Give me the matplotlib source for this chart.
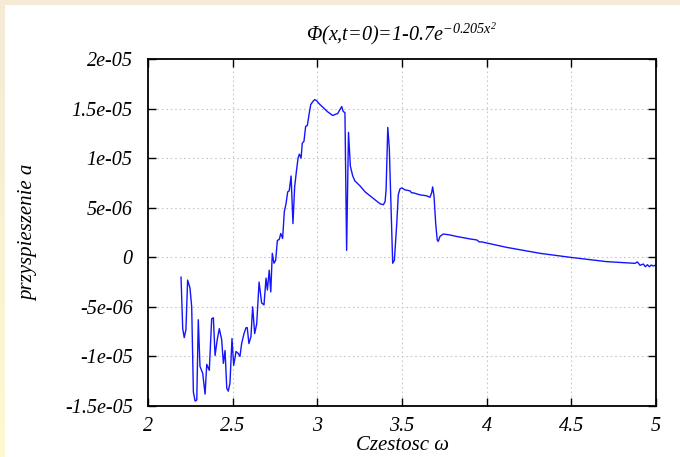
import numpy as np
import matplotlib.pyplot as plt
from matplotlib.ticker import FixedLocator, FixedFormatter

# czestosc omega i przyspieszenie a (w jednostkach 1e-6)
omega = [2.195, 2.205, 2.214, 2.224, 2.234, 2.248, 2.258, 2.268, 2.278, 2.288,
         2.297, 2.307, 2.323, 2.337, 2.347, 2.362, 2.376, 2.386, 2.396, 2.409,
         2.421, 2.435, 2.445, 2.455, 2.465, 2.474, 2.484, 2.496, 2.506, 2.520,
         2.533, 2.543, 2.553, 2.567, 2.579, 2.586, 2.596, 2.608, 2.618, 2.630,
         2.642, 2.656, 2.671, 2.685, 2.697, 2.705, 2.716, 2.725, 2.734, 2.744,
         2.754, 2.764, 2.775, 2.784, 2.795, 2.805, 2.815, 2.825, 2.834, 2.845,
         2.856, 2.866, 2.876, 2.886, 2.894, 2.904, 2.911, 2.921, 2.931, 2.941,
         2.951, 2.961, 2.973, 2.984, 2.996, 3.010, 3.022, 3.035, 3.047, 3.059,
         3.075, 3.091, 3.104, 3.120, 3.134, 3.144, 3.153, 3.163, 3.173, 3.184,
         3.195, 3.209, 3.222, 3.252, 3.282, 3.311, 3.341, 3.370, 3.390, 3.400,
         3.406, 3.416, 3.425, 3.437, 3.445, 3.455, 3.469, 3.478, 3.488, 3.498,
         3.518, 3.547, 3.557, 3.567, 3.606, 3.646, 3.665, 3.675, 3.681, 3.689,
         3.699, 3.708, 3.714, 3.724, 3.744, 3.783, 3.823, 3.902, 3.941, 3.957,
         3.971, 4.118, 4.315, 4.492, 4.709, 4.876, 4.890, 4.906, 4.925, 4.937,
         4.949, 4.961, 4.972, 4.984, 4.994]
accel = [-2.0, -7.2, -8.1, -7.3, -2.3, -3.1, -5.0, -13.6, -14.5, -14.4,
         -6.3, -11.0, -11.7, -13.8, -10.8, -11.4, -6.2, -6.1, -9.9, -8.3,
         -7.2, -8.3, -10.7, -9.4, -13.2, -13.5, -12.7, -8.2, -10.9, -9.5,
         -9.7, -10.0, -8.7, -7.7, -7.1, -7.1, -8.7, -8.0, -5.0, -7.7,
         -6.7, -2.5, -4.6, -4.8, -2.1, -3.3, -1.3, -3.5, 0.4, -0.6,
         -0.3, 1.7, 1.8, 2.4, 1.9, 4.6, 5.4, 6.6, 6.7, 8.2,
         3.4, 7.1, 8.6, 10.0, 10.4, 10.0, 11.5, 11.7, 13.2, 13.3,
         14.4, 15.4, 15.7, 15.9, 15.8, 15.5, 15.3, 15.1, 14.9, 14.7,
         14.5, 14.3, 14.4, 14.5, 14.9, 15.2, 14.7, 14.6, 0.7, 12.6,
         9.2, 8.2, 7.7, 7.2, 6.6, 6.2, 5.8, 5.4, 5.3, 5.6,
         6.8, 13.1, 11.0, 4.1, -0.6, -0.3, 3.4, 6.3, 6.9, 7.0,
         6.8, 6.7, 6.5, 6.5, 6.3, 6.2, 6.05, 6.5, 7.1, 6.2,
         3.4, 1.75, 1.6, 2.1, 2.35, 2.25, 2.1, 1.85, 1.75, 1.55,
         1.55, 1.0, 0.4, 0.0, -0.44, -0.61, -0.47, -0.81, -0.68, -0.95,
         -0.75, -0.95, -0.78, -0.88, -0.81]

xticks = [2, 2.5, 3, 3.5, 4, 4.5, 5]
xtick_labels = ["2", "2.5", "3", "3.5", "4", "4.5", "5"]
yticks = [-1.5e-05, -1e-05, -5e-06, 0, 5e-06, 1e-05, 1.5e-05, 2e-05]
ytick_labels = ["-1.5e-05", "-1e-05", "-5e-06", "0", "5e-06", "1e-05", "1.5e-05", "2e-05"]

plt.rcParams['font.family'] = ['Liberation Serif', 'DejaVu Serif']
plt.rcParams['font.style'] = 'italic'
plt.rcParams['mathtext.fontset'] = 'custom'
plt.rcParams['mathtext.rm'] = 'Liberation Serif:italic'
plt.rcParams['mathtext.it'] = 'Liberation Serif:italic'

W, H = 680, 457
fig = plt.figure(figsize=(W / 100, H / 100), dpi=100, facecolor='white')

# kremowe obramowanie: pasek u gory i gradient po lewej
bg = fig.add_axes([0, 0, 1, 1], zorder=-10)
bg.set_xlim(0, W)
bg.set_ylim(H, 0)
bg.axis('off')
bg.add_patch(plt.Rectangle((0, 0), W, 5, color='#f4ead6', lw=0))
grad = np.linspace(0, 1, 256).reshape(-1, 1)
c_top = np.array([0xf4, 0xea, 0xd6]) / 255
c_bot = np.array([0xfd, 0xf9, 0xd0]) / 255
img = c_top + grad[..., None] * (c_bot - c_top)
bg.imshow(img, extent=(0, 5, H, 0), aspect='auto', interpolation='bilinear')

ax = fig.add_axes([148 / W, 1 - 406 / H, (656 - 148) / W, (406 - 59) / H])
ax.plot(omega, np.array(accel) * 1e-6, color='#1414ff', lw=1.0)

ax.set_xlim(2, 5)
ax.set_ylim(-1.5e-05, 2e-05)
ax.xaxis.set_major_locator(FixedLocator(xticks))
ax.xaxis.set_major_formatter(FixedFormatter(xtick_labels))
ax.yaxis.set_major_locator(FixedLocator(yticks))
ax.yaxis.set_major_formatter(FixedFormatter(ytick_labels))
ax.tick_params(direction='in', length=6, width=1.0, top=True, right=True,
               labelsize=14.5, pad=8)
ax.tick_params(axis='y', pad=11)
ax.grid(True, color='#c8c8c8', linestyle=(0, (1.5, 2.5)), lw=0.8)
for s in ax.spines.values():
    s.set_linewidth(1.3)
    s.set_color('black')

ax.set_title(r'Φ(x,t=0)=1-0.7e$^{-0.205x^{2}}$', fontsize=14.5, pad=13)
ax.set_ylabel('przyspieszenie a', fontsize=15)
ax.yaxis.set_label_coords(-(148 - 38) / (656 - 148), 0.5)
ax.set_xlabel('Czestosc ω', fontsize=15)
ax.xaxis.set_label_coords(0.5, -(446 - 406) / (406 - 59))
ax.xaxis.label.set_va('center')

fig.savefig('out.png', dpi=100)
